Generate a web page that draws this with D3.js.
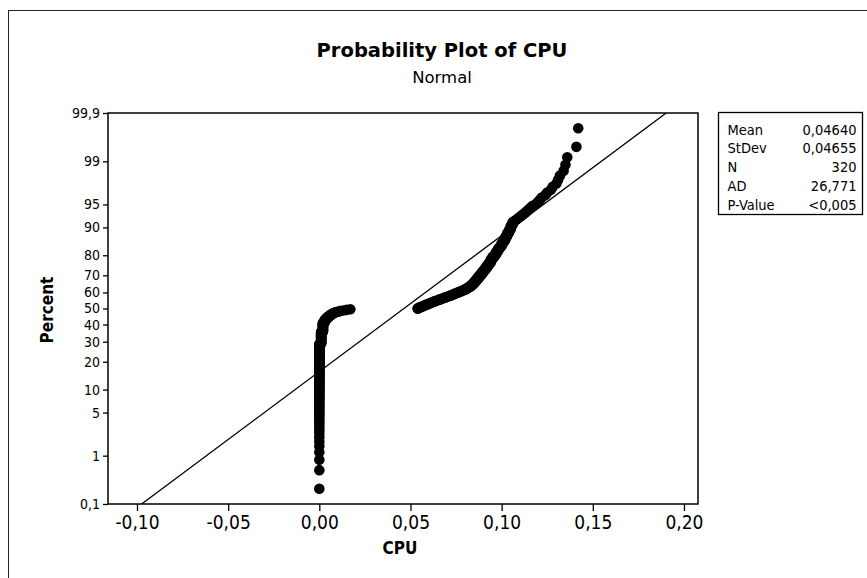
<!DOCTYPE html>
<html>
<head>
<meta charset="utf-8">
<script src="https://cdn.jsdelivr.net/npm/d3@7"></script>
<style>
  body { margin: 0; background: #fff; }
  text { font-family: "DejaVu Sans Condensed", "DejaVu Sans", sans-serif; fill: #000; }
  .title { font-family: "DejaVu Sans", sans-serif; }
  .axis line, .axis path { stroke: #000; }
</style>
</head>
<body>
<div id="chart"></div>
<script>
// CPU values (sorted), with how many points sit at each value
var cpuValues = [0.000, 0.001, 0.002, 0.003, 0.004, 0.005, 0.006, 0.007, 0.008, 0.009,
    0.010, 0.011, 0.012, 0.014, 0.015, 0.017,
    0.054, 0.055, 0.056, 0.057, 0.058, 0.059, 0.060, 0.061, 0.062, 0.063,
    0.064, 0.065, 0.066, 0.067, 0.068, 0.069, 0.070, 0.071, 0.072, 0.073,
    0.074, 0.075, 0.076, 0.077, 0.078, 0.079, 0.080, 0.081, 0.082, 0.083,
    0.084, 0.085, 0.086, 0.087, 0.088, 0.089, 0.090, 0.091, 0.092, 0.093,
    0.094, 0.095, 0.096, 0.097, 0.098, 0.099, 0.100, 0.101, 0.102, 0.103,
    0.104, 0.105, 0.106, 0.107, 0.108, 0.109, 0.110, 0.111, 0.112, 0.113,
    0.114, 0.115, 0.116, 0.117, 0.119, 0.120, 0.121, 0.122, 0.124, 0.125,
    0.127, 0.128, 0.130, 0.131, 0.132, 0.134, 0.135, 0.136, 0.141, 0.142];
var cpuCounts = [92, 22, 18, 6, 4, 3, 3, 2, 2, 1,
    1, 1, 1, 1, 1, 1,
    2, 2, 1, 2, 1, 2, 1, 2, 1, 2,
    1, 1, 2, 1, 1, 2, 1, 1, 2, 1,
    2, 1, 2, 1, 2, 1, 2, 2, 2, 3,
    3, 4, 4, 4, 4, 4, 4, 4, 4, 4,
    5, 4, 3, 4, 4, 3, 4, 3, 4, 4,
    3, 4, 3, 1, 1, 1, 1, 1, 1, 1,
    1, 1, 1, 1, 1, 1, 1, 1, 1, 1,
    1, 1, 1, 1, 1, 1, 1, 1, 1, 1];

var xTicks = [-0.10, -0.05, 0.00, 0.05, 0.10, 0.15, 0.20];
var pctTicks = [0.1, 1, 5, 10, 20, 30, 40, 50, 60, 70, 80, 90, 95, 99, 99.9];
var pctLabels = ["0,1", "1", "5", "10", "20", "30", "40", "50", "60", "70", "80", "90", "95", "99", "99,9"];

var statLabels = ["Mean", "StDev", "N", "AD", "P-Value"];
var statValues = ["0,04640", "0,04655", "320", "26,771", "<0,005"];
var fitMean = 0.04640, fitStDev = 0.04655;

var W = 867, H = 578;
var plot = {left: 108, right: 698, top: 113, bottom: 504};

var locale = d3.formatLocale({decimal: ",", thousands: ".", grouping: [3], currency: ["", ""], minus: "-"});
var fmt = locale.format(".2f");

// inverse normal cdf (Acklam)
function probit(p) {
    var a = [-39.69683028665376, 220.9460984245205, -275.9285104469687, 138.3577518672690, -30.66479806614716, 2.506628277459239],
        b = [-54.47609879822406, 161.5858368580409, -155.6989798598866, 66.80131188771972, -13.28068155288572],
        c = [-0.007784894002430293, -0.3223964580411365, -2.400758277161838, -2.549732539343734, 4.374664141464968, 2.938163982698783],
        d = [0.007784695709041462, 0.3224671290700398, 2.445134137142996, 3.754408661907416];
    var q, r;
    if (p < 0.02425) {
        q = Math.sqrt(-2 * Math.log(p));
        return (((((c[0]*q+c[1])*q+c[2])*q+c[3])*q+c[4])*q+c[5]) / ((((d[0]*q+d[1])*q+d[2])*q+d[3])*q+1);
    } else if (p > 1 - 0.02425) {
        q = Math.sqrt(-2 * Math.log(1 - p));
        return -(((((c[0]*q+c[1])*q+c[2])*q+c[3])*q+c[4])*q+c[5]) / ((((d[0]*q+d[1])*q+d[2])*q+d[3])*q+1);
    }
    q = p - 0.5; r = q * q;
    return (((((a[0]*r+a[1])*r+a[2])*r+a[3])*r+a[4])*r+a[5])*q / (((((b[0]*r+b[1])*r+b[2])*r+b[3])*r+b[4])*r+1);
}

var zMax = probit(0.999);

var x = d3.scaleLinear()
    .domain([-0.1159, 0.2077])
    .range([plot.left, plot.right]);

var y = d3.scaleLinear()
    .domain([-zMax, zMax])
    .range([plot.bottom, plot.top]);

var svg = d3.select("#chart")
    .append("svg")
        .attr("width", W)
        .attr("height", H);

svg.append("rect").attr("width", W).attr("height", H).attr("fill", "#fff");

// outer frame
svg.append("rect")
    .attr("x", 8.5).attr("y", 10.5)
    .attr("width", W).attr("height", H)
    .attr("fill", "none").attr("stroke", "#222").attr("stroke-width", 1);

// titles
svg.append("text")
    .attr("class", "title")
    .attr("x", 442).attr("y", 57)
    .attr("text-anchor", "middle")
    .style("font-size", "19.5px").style("font-weight", "bold")
    .text("Probability Plot of CPU");

svg.append("text")
    .attr("class", "title")
    .attr("x", 442).attr("y", 83)
    .attr("text-anchor", "middle")
    .style("font-size", "16.5px")
    .text("Normal");

// axes
svg.append("g")
    .attr("class", "axis x-axis")
    .attr("transform", "translate(0," + plot.bottom + ")")
    .call(d3.axisBottom(x)
        .tickValues(xTicks)
        .tickFormat(fmt)
        .tickSize(7)
        .tickSizeOuter(0)
        .tickPadding(5))
    .call(function(g) { g.select(".domain").remove(); })
    .selectAll("text")
        .style("font-size", "19px");

svg.append("g")
    .attr("class", "axis y-axis")
    .attr("transform", "translate(" + plot.left + ",0)")
    .call(d3.axisLeft(y)
        .tickValues(pctTicks.map(function(p) { return probit(p / 100); }))
        .tickFormat(function(d, i) { return pctLabels[i]; })
        .tickSize(5)
        .tickSizeOuter(0)
        .tickPadding(3))
    .call(function(g) { g.select(".domain").remove(); })
    .selectAll("text")
        .style("font-size", "14px");

svg.selectAll(".axis line").attr("stroke-width", 1.3);

svg.append("text")
    .attr("x", 400).attr("y", 554)
    .attr("text-anchor", "middle")
    .style("font-size", "17px").style("font-weight", "bold")
    .text("CPU");

svg.append("text")
    .attr("transform", "translate(53,310) rotate(-90)")
    .attr("text-anchor", "middle")
    .style("font-size", "17px").style("font-weight", "bold")
    .text("Percent");

// data points with median ranks
var sorted = [];
cpuValues.forEach(function(v, k) {
    for (var j = 0; j < cpuCounts[k]; j++) sorted.push(v);
});
var n = sorted.length;
var points = sorted.map(function(v, i) {
    return [v, (i + 1 - 0.3) / (n + 0.4)];
});

svg.append("clipPath").attr("id", "plot-clip")
    .append("rect")
        .attr("x", plot.left).attr("y", plot.top)
        .attr("width", plot.right - plot.left).attr("height", plot.bottom - plot.top);

// fitted normal line
svg.append("line")
    .attr("clip-path", "url(#plot-clip)")
    .attr("x1", x(fitMean - zMax * fitStDev)).attr("y1", y(-zMax))
    .attr("x2", x(fitMean + zMax * fitStDev)).attr("y2", y(zMax))
    .attr("stroke", "#000").attr("stroke-width", 1.3);

svg.selectAll(".dot")
    .data(points)
  .enter().append("circle")
    .attr("class", "dot")
    .attr("cx", function(d) { return x(d[0]); })
    .attr("cy", function(d) { return y(probit(d[1])); })
    .attr("r", 5.3)
    .attr("fill", "#000");

// plot frame
svg.append("rect")
    .attr("x", plot.left).attr("y", plot.top)
    .attr("width", plot.right - plot.left).attr("height", plot.bottom - plot.top)
    .attr("fill", "none").attr("stroke", "#000").attr("stroke-width", 1.5);

// stats box
var box = svg.append("g").attr("transform", "translate(718.5,112.5)");
box.append("rect")
    .attr("width", 144).attr("height", 102)
    .attr("fill", "#fff").attr("stroke", "#000").attr("stroke-width", 1.3);

box.selectAll(".stat-label")
    .data(statLabels)
  .enter().append("text")
    .attr("class", "stat-label")
    .attr("x", 9)
    .attr("y", function(d, i) { return 22 + i * 18.9; })
    .style("font-size", "14.5px")
    .text(function(d) { return d; });

box.selectAll(".stat-value")
    .data(statValues)
  .enter().append("text")
    .attr("class", "stat-value")
    .attr("x", 138)
    .attr("y", function(d, i) { return 22 + i * 18.9; })
    .attr("text-anchor", "end")
    .style("font-size", "14.5px")
    .text(function(d) { return d; });
</script>
</body>
</html>
